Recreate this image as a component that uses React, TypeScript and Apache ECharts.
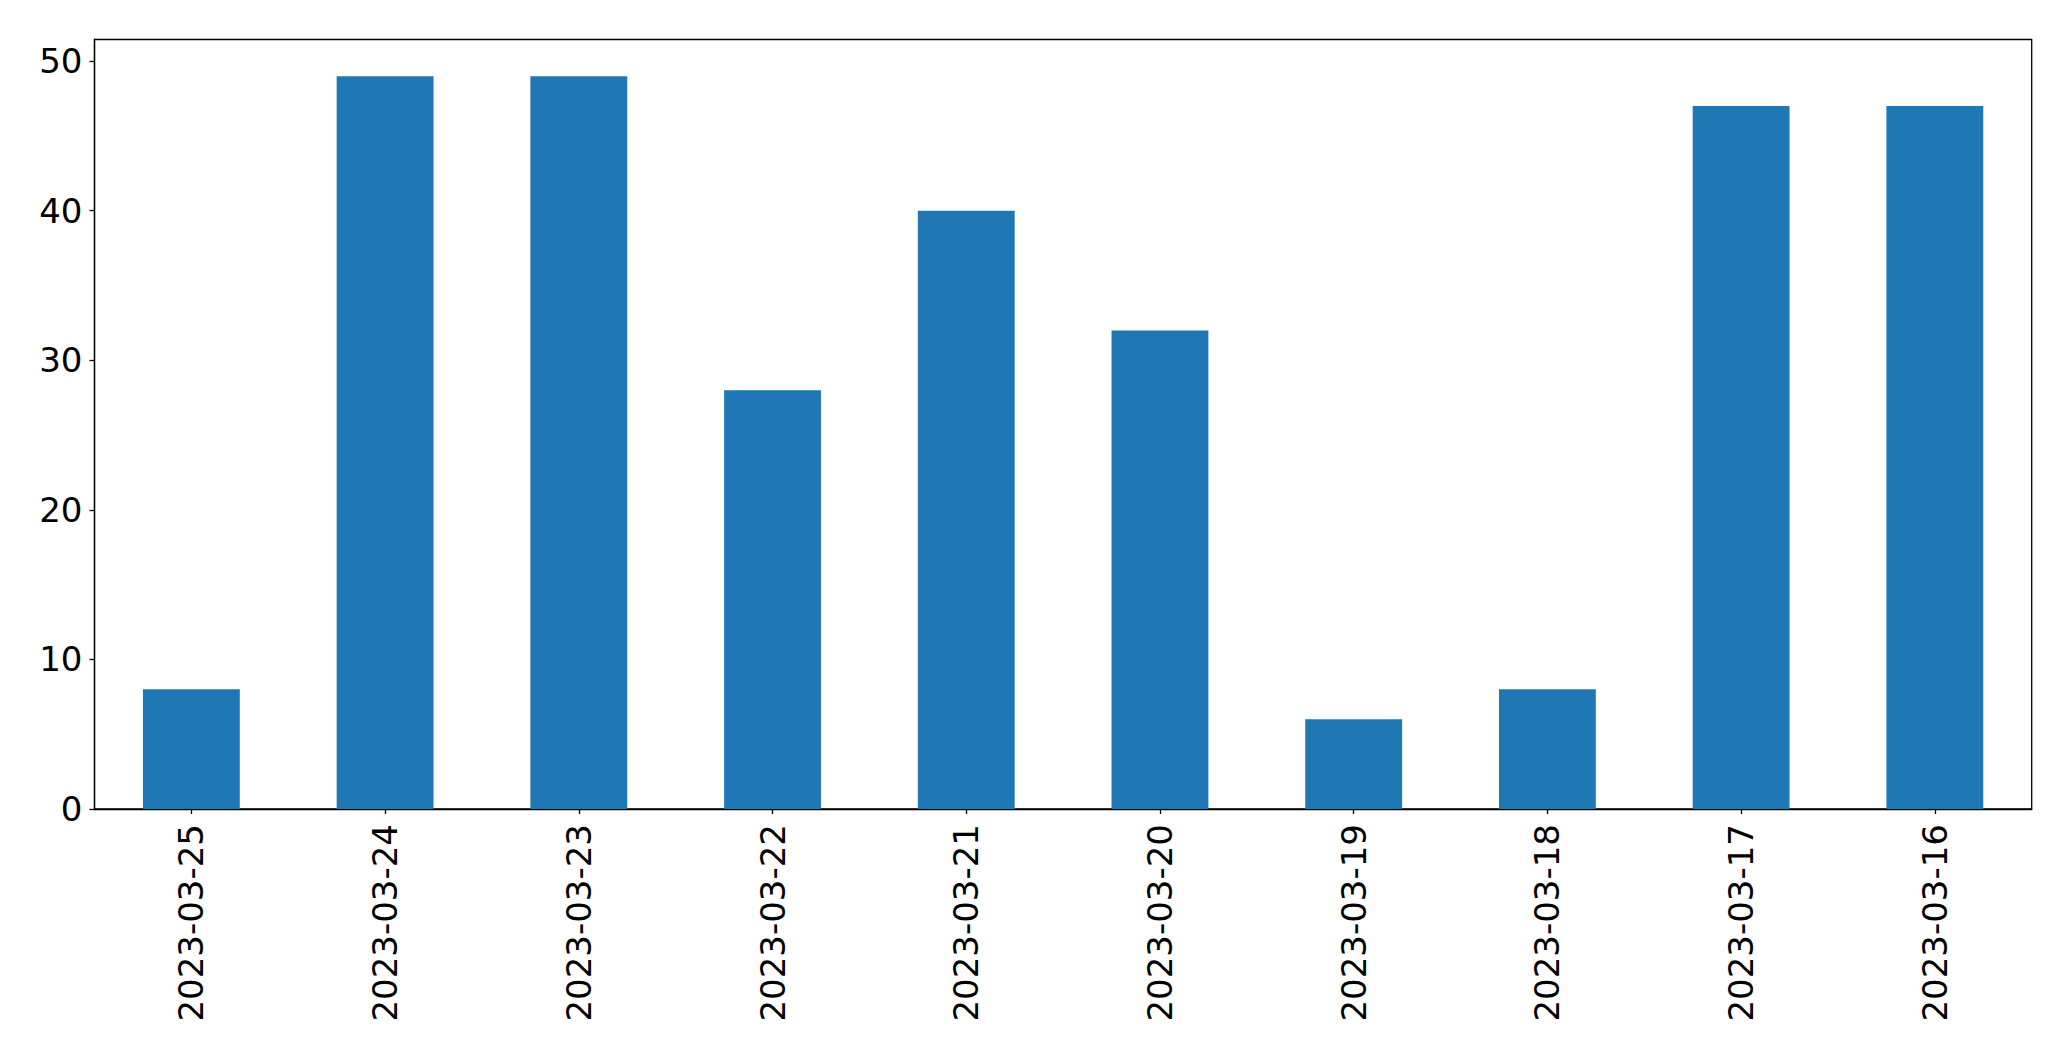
import React, { useEffect, useRef } from "react";
import * as echarts from "echarts";

const categories = [
  "2023-03-25",
  "2023-03-24",
  "2023-03-23",
  "2023-03-22",
  "2023-03-21",
  "2023-03-20",
  "2023-03-19",
  "2023-03-18",
  "2023-03-17",
  "2023-03-16",
];
const values = [8, 49, 49, 28, 40, 32, 6, 8, 47, 47];
const yTicks = [0, 10, 20, 30, 40, 50];

export default function App() {
  const ref = useRef<HTMLDivElement>(null);
  useEffect(() => {
    if (!ref.current) return;
    const chart = echarts.init(ref.current, null, { renderer: "svg" });
    const font = "DejaVu Sans";
    chart.setOption({
      animation: false,
      backgroundColor: "#ffffff",
      grid: {
        left: 94.5,
        top: 39.5,
        width: 1937.2,
        height: 769.5,
        show: true,
        borderColor: "#000000",
        borderWidth: 1.3,
        backgroundColor: "transparent",
      },
      xAxis: {
        type: "category",
        data: categories,
        boundaryGap: true,
        axisLine: { show: true, lineStyle: { color: "#000", width: 1.3 } },
        axisTick: {
          show: true,
          alignWithLabel: true,
          length: 5,
          lineStyle: { color: "#000", width: 1.3 },
        },
        axisLabel: {
          rotate: 90,
          color: "#000",
          fontFamily: font,
          fontSize: 34,
          margin: 15,
          interval: 0,
        },
        splitLine: { show: false },
      },
      yAxis: {
        type: "value",
        min: 0,
        max: 51.45,
        interval: 10,
        axisLine: { show: true, lineStyle: { color: "#000", width: 1.3 } },
        axisTick: {
          show: true,
          length: 5,
          customValues: yTicks,
          lineStyle: { color: "#000", width: 1.3 },
        },
        axisLabel: {
          color: "#000",
          fontFamily: font,
          fontSize: 34,
          margin: 12,
          customValues: yTicks,
        },
        splitLine: { show: false },
      },
      series: [
        {
          type: "bar",
          data: values,
          barWidth: "50%",
          itemStyle: { color: "#1f77b4" },
        },
      ],
    });
    return () => chart.dispose();
  }, []);
  return (
    <div
      ref={ref}
      style={{ position: "fixed", left: 0, top: 0, width: 2071, height: 1061 }}
    />
  );
}
